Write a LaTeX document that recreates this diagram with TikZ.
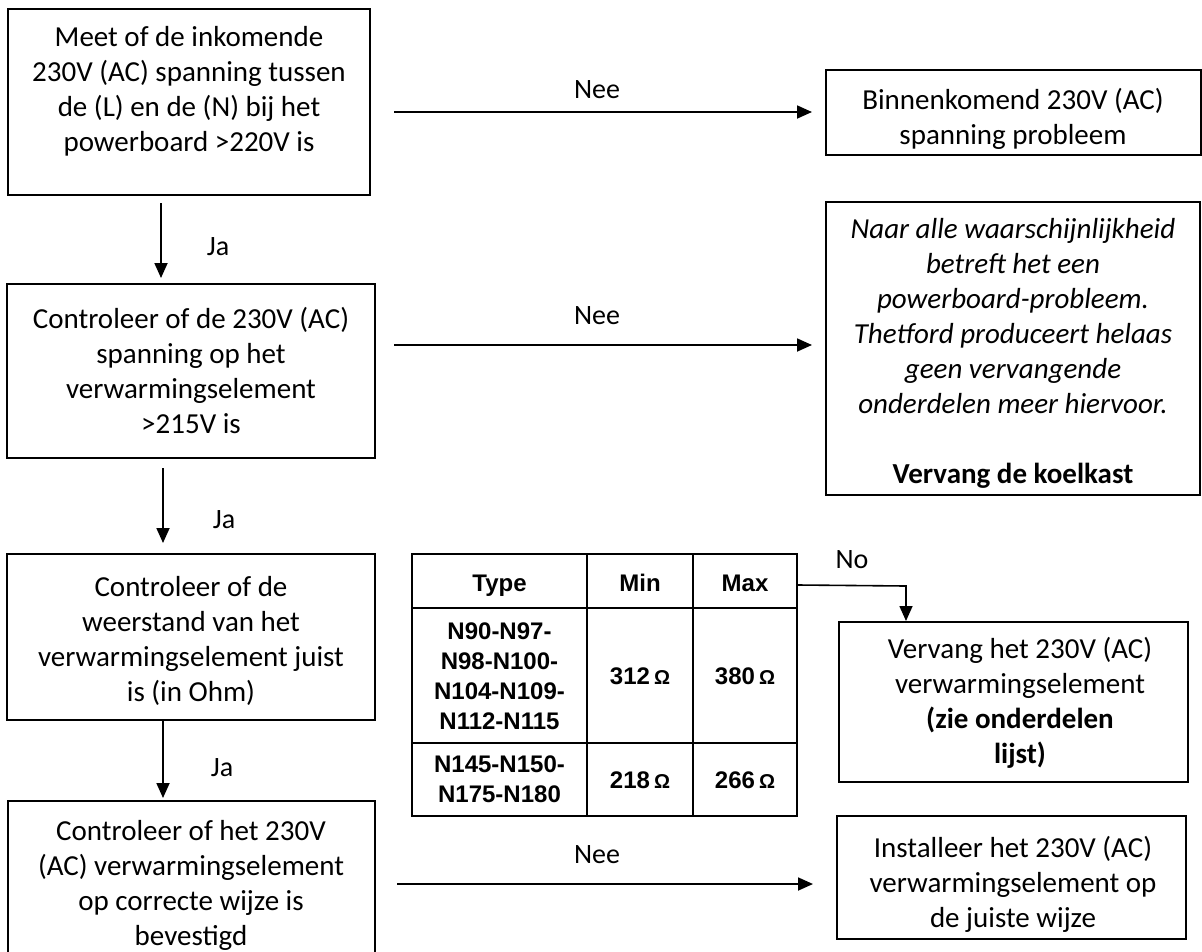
\documentclass[tikz,border=0pt]{standalone}
\usepackage{fontspec}
\setmainfont{Carlito}
\newfontfamily\tabfont{Liberation Sans}
\usetikzlibrary{arrows.meta,calc}
\tikzset{
  box/.style={draw, line width=1.4pt, inner sep=0pt},
  txt/.style={align=center, inner sep=0pt, font=\fontsize{29}{35}\selectfont},
  lbl/.style={inner sep=0pt, font=\fontsize{28}{34}\selectfont},
  arr/.style={-{Triangle[length=15pt,width=13pt]}, line width=1.8pt},
  cell/.style={align=center, inner sep=0pt, font=\tabfont\bfseries\fontsize{24}{30}\selectfont},
  tline/.style={line width=2pt}
}
\newcommand{\ohmsym}{\,{\fontsize{20}{20}\selectfont\symbol{"03A9}}}
\begin{document}
\begin{tikzpicture}[x=1pt,y=-1pt]
\useasboundingbox (0,0) rectangle (1202,951);
\clip (0,0) rectangle (1202,951);
% left column boxes
\node[box, minimum width=362pt, minimum height=186pt] (b1) at (189,102) {};
\node[txt] (t1) at (189,91) {Meet of de inkomende\\230V (AC) spanning tussen\\de (L) en de (N) bij het\\powerboard >220V is};
\node[box, minimum width=368pt, minimum height=174pt] (b2) at (191,371) {};
\node[txt] (t2) at (191,370) {Controleer of de 230V (AC)\\spanning op het\\verwarmingselement\\>215V is};
\node[box, minimum width=368pt, minimum height=166pt] (b3) at (191,637) {};
\node[txt] (t3) at (191,641) {Controleer of de\\weerstand van het\\verwarmingselement juist\\is (in Ohm)};
\node[box, minimum width=367pt, minimum height=180pt] (b4) at (191.5,891) {};
\node[txt] (t4) at (191,885) {Controleer of het 230V\\(AC) verwarmingselement\\op correcte wijze is\\bevestigd};
% right column boxes
\node[box, minimum width=375pt, minimum height=85pt] (r1) at (1013.5,112.5) {};
\node[txt] (s1) at (1013,119) {Binnenkomend 230V (AC)\\spanning probleem};
\node[box, minimum width=374pt, minimum height=293pt] (r2) at (1013,348.5) {};
\node[txt] (s2) at (1013,353) {\textit{Naar alle waarschijnlijkheid}\\\textit{betreft het een}\\\textit{powerboard-probleem.}\\\textit{Thetford produceert helaas}\\\textit{geen vervangende}\\\textit{onderdelen meer hiervoor.}\\~\\\textbf{Vervang de koelkast}};
\node[box, minimum width=349pt, minimum height=160pt] (r3) at (1013.5,702) {};
\node[txt] (s3) at (1020,703) {Vervang het 230V (AC)\\verwarmingselement\\\textbf{(zie onderdelen}\\\textbf{lijst)}};
\node[box, minimum width=349pt, minimum height=123pt] (r4) at (1011.5,877.5) {};
\node[txt] (s4) at (1013,884) {Installeer het 230V (AC)\\verwarmingselement op\\de juiste wijze};
% table
\node[draw, line width=2pt, minimum width=385pt, minimum height=262pt, inner sep=0pt] (tbl) at (604.5,685) {};
\draw[tline] (587,554) -- (587,816);
\draw[tline] (693,554) -- (693,816);
\draw[tline] (412,608) -- (797,608);
\draw[tline] (412,743) -- (797,743);
\node[cell, anchor=base] (h1) at (499.5,591) {Type};
\node[cell, anchor=base] (h2) at (640,591) {Min};
\node[cell, anchor=base] (h3) at (745,591) {Max};
\node[cell] (c11) at (499.5,676) {N90-N97-\\N98-N100-\\N104-N109-\\N112-N115};
\node[cell] (c12) at (640,676) {312\ohmsym};
\node[cell] (c13) at (745,676) {380\ohmsym};
\node[cell] (c21) at (499.5,779) {N145-N150-\\N175-N180};
\node[cell] (c22) at (640,780) {218\ohmsym};
\node[cell] (c23) at (745,780) {266\ohmsym};
% arrow end points
\coordinate (n1s) at (394,112);
\coordinate (n1e) at (812,112);
\coordinate (n2s) at (394,345);
\coordinate (n2e) at (812,345);
\coordinate (n3s) at (397,884);
\coordinate (n3e) at (813,884);
\coordinate (j1s) at (161,203);
\coordinate (j1e) at (161,278);
\coordinate (j2s) at (163,468);
\coordinate (j2e) at (163,543);
\coordinate (j3s) at (163,720);
\coordinate (j3e) at (163,798);
\coordinate (nos) at ($(tbl.north east)+(0,32)$);
\coordinate (nob) at (906,586);
\coordinate (noe) at (906,621);
% connectors
\draw[arr] (n1s) -- (n1e);
\draw[arr] (n2s) -- (n2e);
\draw[arr] (n3s) -- (n3e);
\draw[arr] (j1s) -- (j1e);
\draw[arr] (j2s) -- (j2e);
\draw[arr] (j3s) -- (j3e);
\draw[arr, line width=1.6pt] (nos) -- (nob) -- (noe);
% labels
\node[lbl] (l1) at (597,90) {Nee};
\node[lbl] (l2) at (597,316) {Nee};
\node[lbl] (l3) at (597,855) {Nee};
\node[lbl] (l4) at (218,247) {Ja};
\node[lbl] (l5) at (224,520) {Ja};
\node[lbl] (l6) at (222,768) {Ja};
\node[lbl] (l7) at (852,560) {No};
\end{tikzpicture}
\end{document}
